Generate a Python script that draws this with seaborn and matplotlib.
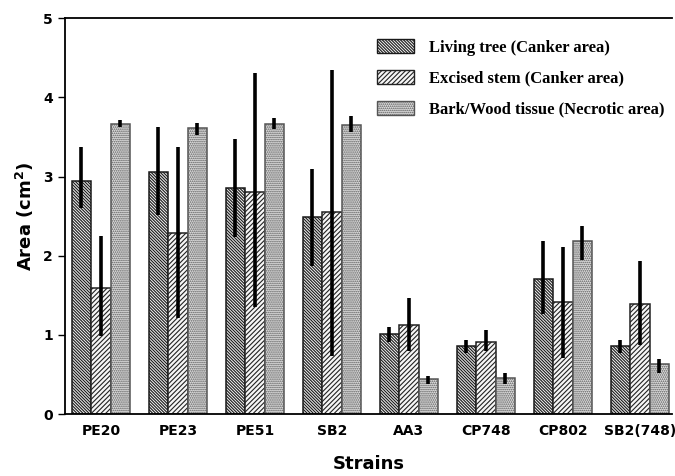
import pandas as pd
import numpy as np
import matplotlib
matplotlib.use('Agg')
import matplotlib.pyplot as plt
from matplotlib.patches import Patch
import seaborn as sns

strains = ['PE20', 'PE23', 'PE51', 'SB2', 'AA3', 'CP748', 'CP802', 'SB2(748)']
series = ['Living tree (Canker area)', 'Excised stem (Canker area)',
          'Bark/Wood tissue (Necrotic area)']

living = [2.94, 3.06, 2.85, 2.49, 1.01, 0.86, 1.71, 0.86]
living_lo = [2.60, 2.51, 2.23, 1.87, 0.91, 0.77, 1.26, 0.77]
living_hi = [3.37, 3.63, 3.47, 3.09, 1.10, 0.94, 2.19, 0.93]

excised = [1.59, 2.29, 2.81, 2.55, 1.12, 0.91, 1.41, 1.39]
excised_lo = [0.98, 1.21, 1.35, 0.74, 0.80, 0.80, 0.71, 0.87]
excised_hi = [2.25, 3.37, 4.31, 4.34, 1.46, 1.06, 2.11, 1.93]

bark = [3.66, 3.61, 3.66, 3.65, 0.44, 0.46, 2.18, 0.63]
bark_lo = [3.62, 3.53, 3.60, 3.56, 0.38, 0.38, 1.95, 0.52]
bark_hi = [3.71, 3.68, 3.74, 3.76, 0.48, 0.52, 2.38, 0.69]

df = pd.DataFrame({
    'strain': strains * 3,
    'series': np.repeat(series, len(strains)),
    'area': living + excised + bark,
})
lows = [living_lo, excised_lo, bark_lo]
highs = [living_hi, excised_hi, bark_hi]

sns.set_style('ticks', {'text.color': 'black', 'axes.edgecolor': 'black',
                        'axes.labelcolor': 'black', 'xtick.color': 'black',
                        'ytick.color': 'black'})
plt.rcParams['hatch.linewidth'] = 0.8

fig = plt.figure(figsize=(6.75, 4.76), dpi=100)
ax = fig.add_axes([0.096, 0.130, 0.9, 0.832])

fills = ['#eeeeee', '#f6f6f6', '#e0e0e0']
sns.barplot(data=df, x='strain', y='area', hue='series', order=strains,
            hue_order=series, errorbar=None, width=0.76, ax=ax,
            palette=fills, legend=False)

hatches = ['\\' * 11, '/' * 7, '.' * 8]
edges = ['#1a1a1a', '#222222', '#555555']
for i, cont in enumerate(ax.containers):
    for j, bar in enumerate(cont):
        bar.set_hatch(hatches[i])
        bar.set_edgecolor(edges[i])
        bar.set_linewidth(1.1)
        xc = bar.get_x() + bar.get_width() / 2
        ax.plot([xc, xc], [lows[i][j], highs[i][j]], color='black',
                lw=2.6, solid_capstyle='butt', zorder=5)

ax.set_xlim(-0.47, 7.42)
ax.set_ylim(0, 5)
ax.set_yticks([0, 1, 2, 3, 4, 5])
ax.tick_params(axis='x', length=0, pad=7)
ax.tick_params(axis='y', length=5, width=1)
for lab in ax.get_xticklabels() + ax.get_yticklabels():
    lab.set_fontweight('bold')
    lab.set_fontsize(10)
ax.set_xlabel('Strains', fontsize=13, fontweight='bold', labelpad=12)
ax.set_ylabel('Area (cm$^\\mathbf{2}$)', fontsize=13, fontweight='bold', labelpad=5)
for s in ['left', 'bottom', 'top']:
    ax.spines[s].set_linewidth(1.3)
ax.spines['right'].set_visible(False)

handles = [Patch(facecolor=c, edgecolor=e, hatch=h)
           for c, e, h in zip(fills, edges, hatches)]
ax.legend(handles, series, loc='upper left', bbox_to_anchor=(0.49, 0.985),
          frameon=False, prop={'family': 'Liberation Serif', 'weight': 'bold', 'size': 12},
          handlelength=2.2, handleheight=0.9, labelspacing=0.85, handletextpad=0.9)

fig.savefig('out.png', dpi=100)
